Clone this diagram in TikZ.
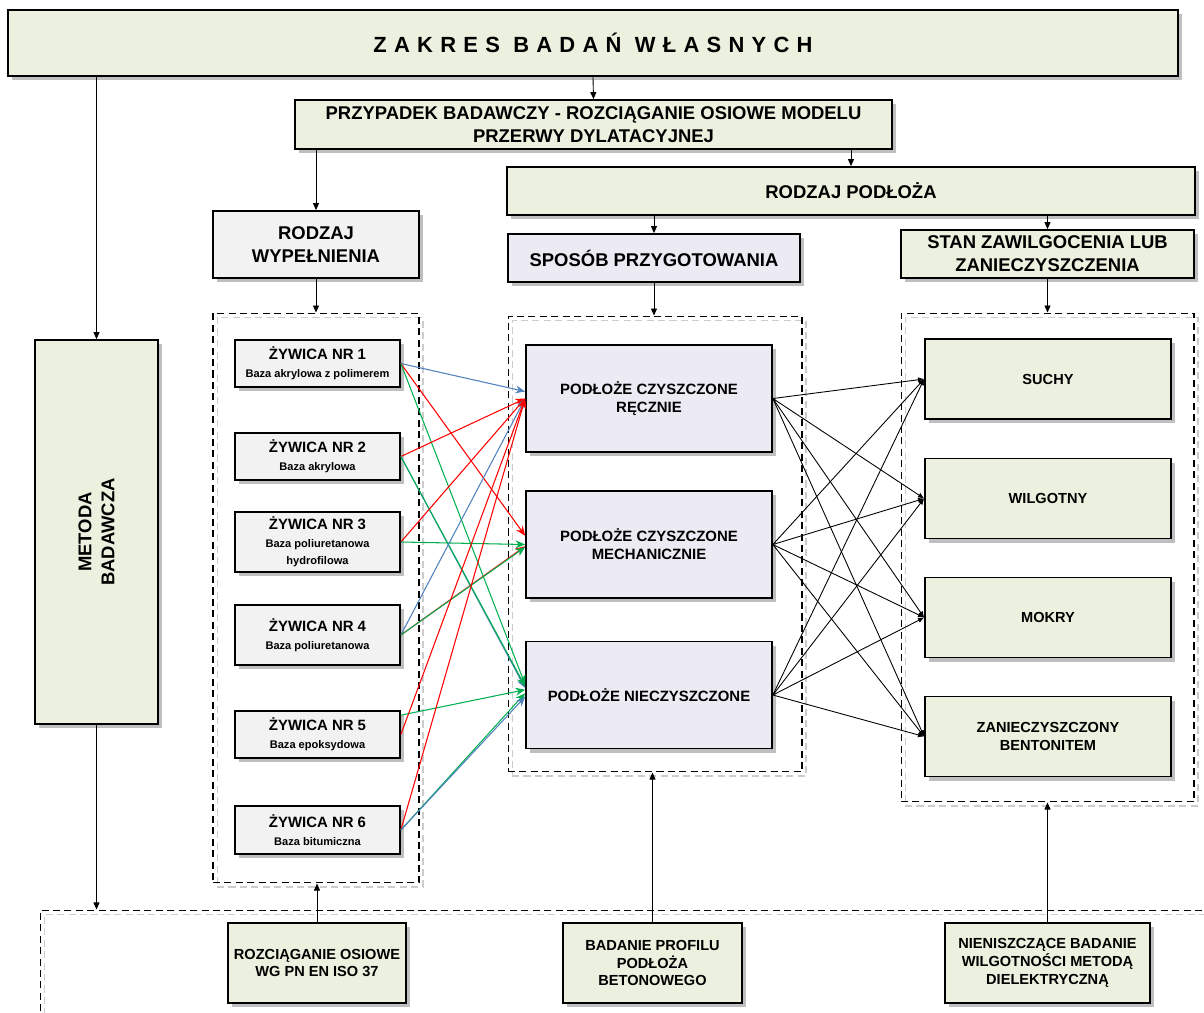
\documentclass[tikz,border=0pt]{standalone}
\usepackage{fontspec}
\setmainfont{Liberation Sans}
\usetikzlibrary{arrows.meta,shadows}
\definecolor{boxgreen}{HTML}{EBF1DE}
\definecolor{boxgray}{HTML}{F2F2F2}
\definecolor{boxlilac}{HTML}{ECEAF2}
\definecolor{lineblue}{HTML}{4F81BD}
\definecolor{linered}{HTML}{FF0000}
\definecolor{linegreen}{HTML}{00B050}
\begin{document}
\begin{tikzpicture}[x=0.02cm,y=-0.02cm,
	box/.style={rectangle,draw=black,line width=1pt,align=center,inner sep=1pt,font=\bfseries\fontsize{10.5}{13}\selectfont,drop shadow={shadow xshift=2.3pt,shadow yshift=-2.3pt,fill=black!25,opacity=1}},
	greenbox/.style={box,fill=boxgreen},
	graybox/.style={box,fill=boxgray},
	lilacbox/.style={box,fill=boxlilac},
	resin/.style={graybox,minimum width=3.3cm,font=\bfseries\fontsize{6.3}{10}\selectfont},
	ground/.style={lilacbox,minimum width=4.92cm,minimum height=2.14cm,font=\bfseries\fontsize{8.5}{10.2}\selectfont},
	moist/.style={greenbox,minimum width=4.92cm,minimum height=1.6cm,font=\bfseries\fontsize{8.3}{10.2}\selectfont},
	testbox/.style={greenbox,minimum height=1.6cm,font=\bfseries\fontsize{8.3}{10.2}\selectfont},
	dashframe/.style={rectangle,draw=black,line width=0.6pt,dash pattern=on 4pt off 2.5pt,drop shadow={shadow xshift=2.3pt,shadow yshift=-2.3pt,fill=none,draw=black!20,opacity=1}},
	link/.style={line width=0.5pt,-{Triangle[length=4pt,width=3.4pt]}},
	blueedge/.style={draw=lineblue,line width=0.6pt,-{Stealth[length=5.5pt,width=4.5pt]}},
	rededge/.style={blueedge,draw=linered},
	greenedge/.style={blueedge,draw=linegreen},
	crossedge/.style={line width=0.5pt,-{Latex[length=3.5pt,width=3pt]}}
	]
	\useasboundingbox (0,0) rectangle (1204,1012);
	\clip (0,0) rectangle (1204,1012);
	\node[dashframe,minimum width=4.12cm,minimum height=11.4cm] (grpwyp) at (316,598) {};
	\node[dashframe,minimum width=5.88cm,minimum height=9.12cm] (grpsposob) at (655,544) {};
	\node[dashframe,minimum width=5.86cm,minimum height=9.78cm] (grpstan) at (1047.5,557.5) {};
	\node[dashframe,minimum width=24.4cm,minimum height=3cm] (grpmetoda) at (650,985) {};
	\node[greenbox,minimum width=23.4cm,minimum height=1.32cm,font=\bfseries\fontsize{12.5}{15}\selectfont] (zakres) at (593,43) {\addfontfeature{LetterSpace=33}ZAKRES BADAŃ WŁASNYCH};
	\node[greenbox,minimum width=11.94cm,minimum height=0.98cm] (przypadek) at (593.5,124.5) {PRZYPADEK BADAWCZY - ROZCIĄGANIE OSIOWE MODELU\\PRZERWY DYLATACYJNEJ};
	\node[greenbox,minimum width=13.76cm,minimum height=0.96cm] (podloze) at (851,191) {RODZAJ PODŁOŻA};
	\node[graybox,minimum width=4.12cm,minimum height=1.34cm] (wypelnienie) at (316,244.5) {RODZAJ\\WYPEŁNIENIA};
	\node[lilacbox,minimum width=5.84cm,minimum height=0.96cm] (sposob) at (654,258) {SPOSÓB PRZYGOTOWANIA};
	\node[greenbox,minimum width=5.86cm,minimum height=0.96cm] (stan) at (1047.5,254) {STAN ZAWILGOCENIA LUB\\ZANIECZYSZCZENIA};
	\node[greenbox,minimum width=2.46cm,minimum height=7.68cm] (metoda) at (96.5,532) {};
	\node[rotate=90,align=center,font=\bfseries\fontsize{10.5}{13}\selectfont] (metodatxt) at (metoda.center) {METODA\\BADAWCZA};
	\node[resin,minimum height=0.94cm] (zyw1) at (317.5,363.5) {{\fontsize{8.5}{10}\selectfont ŻYWICA NR 1}\\Baza akrylowa z polimerem};
	\node[resin,minimum height=0.94cm] (zyw2) at (317.5,456.5) {{\fontsize{8.5}{10}\selectfont ŻYWICA NR 2}\\Baza akrylowa};
	\node[resin,minimum height=1.2cm] (zyw3) at (317.5,542) {{\fontsize{8.5}{10}\selectfont ŻYWICA NR 3}\\Baza poliuretanowa\\hydrofilowa};
	\node[resin,minimum height=1.2cm] (zyw4) at (317.5,635) {{\fontsize{8.5}{10}\selectfont ŻYWICA NR 4}\\Baza poliuretanowa};
	\node[resin,minimum height=0.94cm] (zyw5) at (317.5,734.5) {{\fontsize{8.5}{10}\selectfont ŻYWICA NR 5}\\Baza epoksydowa};
	\node[resin,minimum height=0.96cm] (zyw6) at (317.5,830) {{\fontsize{8.5}{10}\selectfont ŻYWICA NR 6}\\Baza bitumiczna};
	\node[ground] (reczne) at (649,398.5) {PODŁOŻE CZYSZCZONE\\RĘCZNIE};
	\node[ground] (mech) at (649,544.5) {PODŁOŻE CZYSZCZONE\\MECHANICZNIE};
	\node[ground] (niecz) at (649,695) {PODŁOŻE NIECZYSZCZONE};
	\node[moist] (suchy) at (1048,379) {SUCHY};
	\node[moist] (wilg) at (1048,498.5) {WILGOTNY};
	\node[moist] (mokry) at (1048,617.5) {MOKRY};
	\node[moist] (bent) at (1048,736.5) {ZANIECZYSZCZONY\\BENTONITEM};
	\node[testbox,minimum width=3.56cm] (rozc) at (317,963) {ROZCIĄGANIE OSIOWE\\WG PN EN ISO 37};
	\node[testbox,minimum width=3.58cm] (profil) at (652.5,963) {BADANIE PROFILU\\PODŁOŻA\\BETONOWEGO};
	\node[testbox,minimum width=4.1cm] (dielek) at (1047.5,963) {NIENISZCZĄCE BADANIE\\WILGOTNOŚCI METODĄ\\DIELEKTRYCZNĄ};
	\draw[link] (zakres.south) -- (przypadek.north);
	\draw[link] (zakres.south -| metoda.north) -- (metoda.north);
	\draw[link] (przypadek.south -| wypelnienie.north) -- (wypelnienie.north);
	\draw[link] (przypadek.south -| podloze.north) -- (podloze.north);
	\draw[link] (podloze.south -| sposob.north) -- (sposob.north);
	\draw[link] (podloze.south -| stan.north) -- (stan.north);
	\draw[link] (wypelnienie.south) -- (grpwyp.north);
	\draw[link] (sposob.south) -- (sposob.south |- grpsposob.north);
	\draw[link] (stan.south) -- (stan.south |- grpstan.north);
	\draw[link] (metoda.south) -- (metoda.south |- grpmetoda.north);
	\draw[link] (rozc.north) -- (rozc.north |- grpwyp.south);
	\draw[link] (profil.north) -- (profil.north |- grpsposob.south);
	\draw[link] (dielek.north) -- (dielek.north |- grpstan.south);
	\draw[blueedge] (zyw1.east) -- ([yshift=4pt]reczne.west);
	\draw[rededge] (zyw1.east) -- ([yshift=5pt]mech.west);
	\draw[greenedge] (zyw1.east) -- ([yshift=6pt]niecz.west);
	\draw[rededge] (zyw2.east) -- (reczne.west);
	\draw[blueedge] (zyw2.east) -- ([yshift=4pt]niecz.west);
	\draw[greenedge] (zyw2.east) -- ([yshift=5pt]niecz.west);
	\draw[rededge] (zyw3.east) -- (reczne.west);
	\draw[greenedge] (zyw3.east) -- (mech.west);
	\draw[blueedge] (zyw4.east) -- (reczne.west);
	\draw[rededge] (zyw4.east) -- ([yshift=-1pt]mech.west);
	\draw[greenedge] (zyw4.east) -- ([yshift=-1.5pt]mech.west);
	\draw[greenedge] ([yshift=11pt]zyw5.east) -- ([yshift=3pt]niecz.west);
	\draw[rededge] (zyw5.east) -- (reczne.west);
	\draw[rededge] (zyw6.east) -- (reczne.west);
	\draw[greenedge] (zyw6.east) -- ([yshift=1pt]niecz.west);
	\draw[blueedge] (zyw6.east) -- ([yshift=-1pt]niecz.west);
	\draw[crossedge] (reczne.east) -- (suchy.west);
	\draw[crossedge] (reczne.east) -- (wilg.west);
	\draw[crossedge] (reczne.east) -- (mokry.west);
	\draw[crossedge] (reczne.east) -- (bent.west);
	\draw[crossedge] (mech.east) -- (suchy.west);
	\draw[crossedge] (mech.east) -- (wilg.west);
	\draw[crossedge] (mech.east) -- (mokry.west);
	\draw[crossedge] (mech.east) -- (bent.west);
	\draw[crossedge] (niecz.east) -- (suchy.west);
	\draw[crossedge] (niecz.east) -- (wilg.west);
	\draw[crossedge] (niecz.east) -- (mokry.west);
	\draw[crossedge] (niecz.east) -- (bent.west);
\end{tikzpicture}
\end{document}
